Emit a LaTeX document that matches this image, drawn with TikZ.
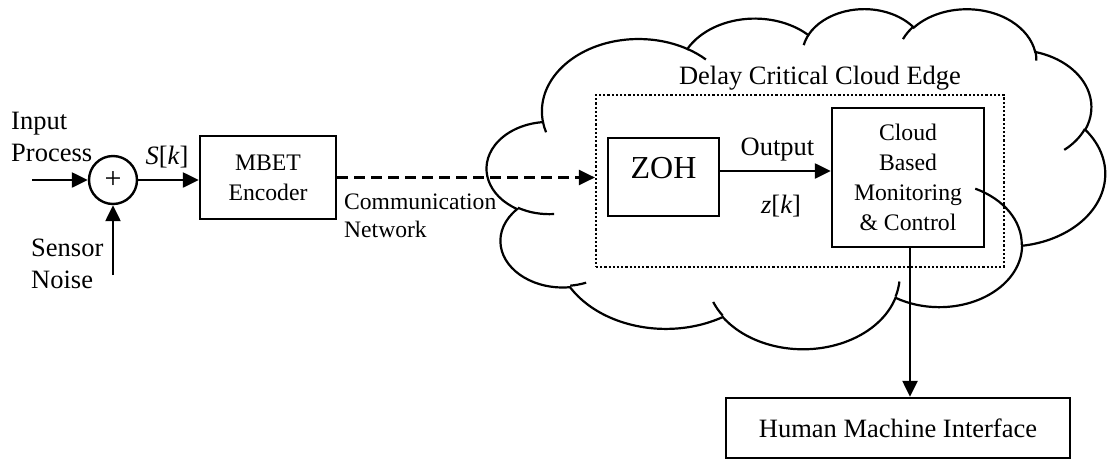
\documentclass[tikz,border=0pt]{standalone}
\usepackage{fontspec}
\setmainfont{Liberation Serif}
\usetikzlibrary{arrows.meta}
\begin{document}
\begin{tikzpicture}[x=1pt,y=-1pt,
  box/.style={draw,line width=2.4pt,inner sep=0pt},
  arr/.style={line width=2.4pt,-{Triangle[length=16pt,width=15pt]}},
  big/.style={font=\fontsize{26.5}{32}\selectfont,inner sep=0pt},
  small/.style={font=\fontsize{23.7}{30}\selectfont,inner sep=0pt},
  cl/.style={line width=2.2pt}]
\useasboundingbox (0,0) rectangle (1107,461);

% cloud outline
\draw[cl] (542.79,121.10)
  arc[start angle=187.746,end angle=59.63,x radius=96.605pt,y radius=72.329pt]
  arc[start angle=152.025,end angle=45.425,x radius=76.292pt,y radius=57.194pt]
  arc[start angle=153.484,end angle=37.302,x radius=62.444pt,y radius=46.789pt]
  arc[start angle=139.695,end angle=10.211,x radius=69.482pt,y radius=51.905pt]
  arc[start angle=74.768,end angle=-23.213,x radius=76.292pt,y radius=57.241pt]
  arc[start angle=37.502,end angle=-81.863,x radius=96.920pt,y radius=72.565pt]
  arc[start angle=-0.4596,end angle=-121.979,x radius=82.758pt,y radius=61.916pt]
  arc[start angle=-16.846,end angle=-146.245,x radius=96.591pt,y radius=72.525pt]
  arc[start angle=-58.986,end angle=-150.201,x radius=110.439pt,y radius=82.977pt]
  arc[start angle=276.694,end angle=136.865,x radius=62.372pt,y radius=46.577pt]
  arc[start angle=239.646,end angle=95.888,x radius=62.158pt,y radius=46.789pt]
  -- cycle;
% cloud inner arcs
\draw[cl]
  (554.14,214.02) arc[start angle=-85.546,end angle=-120.354,x radius=62.158pt,y radius=46.789pt]
  (586.11,282.67) arc[start angle=-68.233,end angle=-83.306,x radius=62.372pt,y radius=46.577pt]
  (722.73,315.65) arc[start angle=-146.245,end angle=-158.472,x radius=96.591pt,y radius=72.525pt]
  (899.39,281.50) arc[start angle=-4.738,end angle=-16.846,x radius=96.591pt,y radius=72.525pt]
  (975.24,188.66) arc[start angle=64.029,end angle=-0.4596,x radius=82.758pt,y radius=61.916pt]
  (1084.95,128.84) arc[start angle=-23.213,end angle=-49.636,x radius=76.292pt,y radius=57.241pt]
  (1035.25,50.70) arc[start angle=10.211,end angle=-0.821,x radius=69.482pt,y radius=51.905pt]
  (902.98,39.10) arc[start angle=156.288,end angle=139.695,x radius=69.482pt,y radius=51.905pt]
  (803.74,45.15) arc[start angle=167.726,end angle=153.484,x radius=62.444pt,y radius=46.789pt]
  (687.28,48.86) arc[start angle=59.63,end angle=45.723,x radius=96.605pt,y radius=72.329pt]
  (546.04,132.27) arc[start angle=-163.194,end angle=-172.254,x radius=96.605pt,y radius=72.329pt];

% summing junction and inputs
\node[draw,circle,line width=2.4pt,minimum size=48pt,inner sep=0pt,font=\fontsize{30}{36}\selectfont] (sum) at (113,180) {+};
\coordinate (inp) at (32,180);
\coordinate (noise) at (113,275);
\draw[arr] (inp) -- (sum);
\draw[arr] (noise) -- (sum);
\node[big,anchor=west,align=left] (inlab) at (11,137) {Input\\Process};
\node[big,anchor=west,align=left] (snlab) at (31,263.5) {Sensor\\Noise};
\node[big] (sklab) at (167,157) {\itshape S\upshape[\itshape k\upshape]};

% encoder
\node[box,small,align=center,minimum width=136pt,minimum height=83pt] (mbet) at (268,177.5) {MBET\\Encoder};
\draw[arr] (sum) -- (sum -| mbet.west);

% edge region
\node[draw,line width=2.2pt,dotted,minimum width=408pt,minimum height=172pt,inner sep=0pt] (edge) at (800,181) {};
\node[big] (edgelab) at (820,78) {Delay Critical Cloud Edge};
\draw[arr,dash pattern=on 11pt off 6pt] (mbet.east) -- (mbet.east -| edge.west);
\node[font=\fontsize{23.6}{28}\selectfont,inner sep=0pt,anchor=west,align=left] (comlab) at (344,216) {Communication\\Network};

% ZOH
\node[box,minimum width=111pt,minimum height=78pt] (zoh) at (663.5,177) {};
\node[font=\fontsize{32}{38}\selectfont,inner sep=0pt] (zohlab) at (663.5,168) {ZOH};

% cloud monitoring
\node[box,small,align=center,minimum width=152pt,minimum height=139pt] (cbm) at (908,177.5) {Cloud\\Based\\Monitoring\\\& Control};
\path ([yshift=6pt]zoh.east) coordinate (o1);
\draw[arr] (o1) -- (o1 -| cbm.west);
\node[big] (outlab) at (777.5,150) {Output};
\node[big] (zklab) at (781,206) {\itshape z\upshape[\itshape k\upshape]};

% HMI
\node[box,big,minimum width=344pt,minimum height=60pt] (hmi) at (898,428) {Human Machine Interface};
\path ([xshift=2pt]cbm.south) coordinate (v1);
\draw[arr] (v1) -- (v1 |- hmi.north);
\end{tikzpicture}
\end{document}
